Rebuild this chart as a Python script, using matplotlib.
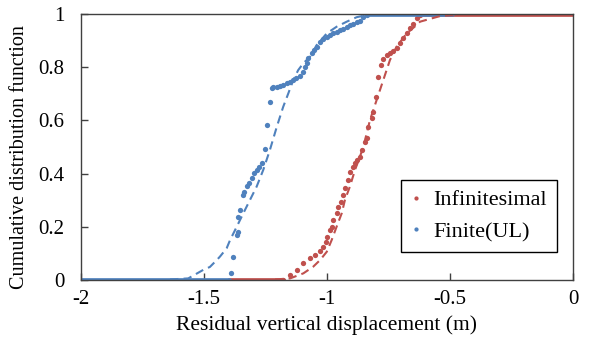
import numpy as np
import matplotlib
matplotlib.use("Agg")
import matplotlib.pyplot as plt

RED = "#C0504D"
BLUE = "#4F81BD"

# empirical CDF points, Infinitesimal
inf_x = [-1.179, -1.150, -1.123, -1.096, -1.069, -1.049, -1.028, -1.015, -1.004, -0.999,
         -0.988, -0.981, -0.974, -0.961, -0.954, -0.944, -0.934, -0.927, -0.913, -0.907,
         -0.896, -0.886, -0.877, -0.866, -0.859, -0.846, -0.839, -0.832, -0.818, -0.812,
         -0.801, -0.791, -0.782, -0.771, -0.757, -0.744, -0.730, -0.717, -0.703, -0.690,
         -0.676, -0.663, -0.649, -0.635, -0.622]
inf_y = [0.000, 0.019, 0.038, 0.063, 0.082, 0.094, 0.110, 0.125, 0.144, 0.163,
         0.188, 0.200, 0.226, 0.251, 0.276, 0.294, 0.320, 0.345, 0.376, 0.407,
         0.426, 0.439, 0.451, 0.464, 0.489, 0.520, 0.534, 0.576, 0.608, 0.633,
         0.689, 0.764, 0.808, 0.830, 0.846, 0.852, 0.862, 0.871, 0.890, 0.909,
         0.927, 0.946, 0.962, 0.984, 0.996]
inf_zero = [-1.40, -1.179]     # flat part at 0
inf_one = [-0.622, 0.0]        # flat part at 1

# empirical CDF points, Finite(UL)
fin_x = [-1.391, -1.383, -1.367, -1.363, -1.361, -1.352, -1.340, -1.336, -1.326, -1.316,
         -1.306, -1.296, -1.286, -1.275, -1.265, -1.252, -1.242, -1.232, -1.225, -1.218,
         -1.204, -1.191, -1.178, -1.164, -1.150, -1.137, -1.124, -1.110, -1.096, -1.089,
         -1.083, -1.076, -1.062, -1.053, -1.042, -1.028, -1.016, -1.001, -0.988, -0.974,
         -0.961, -0.947, -0.935, -0.920, -0.907, -0.893, -0.879, -0.866, -0.852, -0.839]
fin_y = [0.027, 0.085, 0.169, 0.182, 0.238, 0.263, 0.320, 0.332, 0.353, 0.364,
         0.382, 0.401, 0.414, 0.426, 0.441, 0.491, 0.583, 0.670, 0.721, 0.724,
         0.727, 0.729, 0.733, 0.739, 0.746, 0.752, 0.759, 0.767, 0.783, 0.802,
         0.815, 0.833, 0.852, 0.865, 0.877, 0.896, 0.906, 0.915, 0.921, 0.927,
         0.934, 0.940, 0.945, 0.950, 0.957, 0.962, 0.969, 0.975, 0.990, 0.996]
fin_zero = [-2.0, -1.40]
fin_one = [-0.839, -0.493]

# fitted CDFs (dashed)
inf_fit_x = [-1.211, -1.150, -1.096, -1.056, -1.028, -1.001, -0.981, -0.961, -0.940, -0.927,
             -0.907, -0.886, -0.866, -0.852, -0.825, -0.798, -0.771, -0.744, -0.717, -0.676,
             -0.635, -0.622, -0.541, -0.419]
inf_fit_y = [0.002, 0.006, 0.025, 0.050, 0.075, 0.106, 0.150, 0.200, 0.251, 0.301,
             0.351, 0.414, 0.464, 0.501, 0.602, 0.677, 0.752, 0.827, 0.877, 0.927,
             0.959, 0.971, 0.992, 1.000]
fin_fit_x = [-1.638, -1.564, -1.503, -1.476, -1.448, -1.435, -1.408, -1.394, -1.367, -1.340,
             -1.313, -1.286, -1.259, -1.232, -1.204, -1.178, -1.157, -1.137, -1.117, -1.096,
             -1.069, -1.042, -1.001, -0.961, -0.920, -0.879, -0.839, -0.785]
fin_fit_y = [0.002, 0.006, 0.038, 0.049, 0.075, 0.088, 0.119, 0.150, 0.200, 0.251,
             0.301, 0.351, 0.414, 0.489, 0.576, 0.651, 0.702, 0.752, 0.789, 0.815,
             0.839, 0.883, 0.927, 0.952, 0.971, 0.988, 0.996, 1.000]

plt.rcParams.update({"font.family": "Liberation Serif", "font.size": 15})
fig = plt.figure(figsize=(5.89, 3.47), dpi=100)
ax = fig.add_axes([0.1375, 0.1931, 0.8353, 0.7666])

ms = 3.8
seg = dict(lw=3.4, solid_capstyle="round")
ax.plot(inf_zero, [0, 0], color=RED, **seg)
ax.plot(inf_one, [1, 1], color=RED, **seg)
ax.plot(inf_x, inf_y, "o", color=RED, ms=ms, mew=0, label="Infinitesimal")
ax.plot(fin_zero, [0, 0], color=BLUE, **seg)
ax.plot(fin_one, [1, 1], color=BLUE, **seg)
ax.plot(fin_x, fin_y, "o", color=BLUE, ms=ms, mew=0, label="Finite(UL)")

ax.plot(inf_fit_x, inf_fit_y, color=RED, lw=1.5, dashes=(4, 2.5))
ax.plot(fin_fit_x, fin_fit_y, color=BLUE, lw=1.5, dashes=(4, 2.5))

ax.set_xlim(-2, 0)
ax.set_ylim(0, 1)
ax.set_xticks([-2, -1.5, -1, -0.5, 0])
ax.set_xticklabels(["-2", "-1.5", "-1", "-0.5", "0"])
ax.set_yticks([0, 0.2, 0.4, 0.6, 0.8, 1])
ax.set_yticklabels(["0", "0.2", "0.4", "0.6", "0.8", "1"])
ax.tick_params(direction="in", length=5, width=1, color="#404040", labelsize=15)
ax.tick_params(axis="x", pad=7)
ax.tick_params(axis="y", pad=12)
for s in ax.spines.values():
    s.set_color("#404040")
    s.set_linewidth(1.0)
ax.set_xlabel("Residual vertical displacement (m)", fontsize=15.5, labelpad=5)
ax.set_ylabel("Cumulative distribution function", fontsize=14.5, va="center")
ax.yaxis.set_label_coords(-0.124, 0.462)

leg = ax.legend(loc="lower left", bbox_to_anchor=(0.65, 0.105), borderaxespad=0,
                fancybox=False, edgecolor="black", framealpha=1, handlelength=0.5,
                handletextpad=0.5, markerscale=0.8, labelspacing=0.5, fontsize=16,
                borderpad=0.45)
leg.get_frame().set_linewidth(1.0)

fig.savefig("out.png", dpi=100)
